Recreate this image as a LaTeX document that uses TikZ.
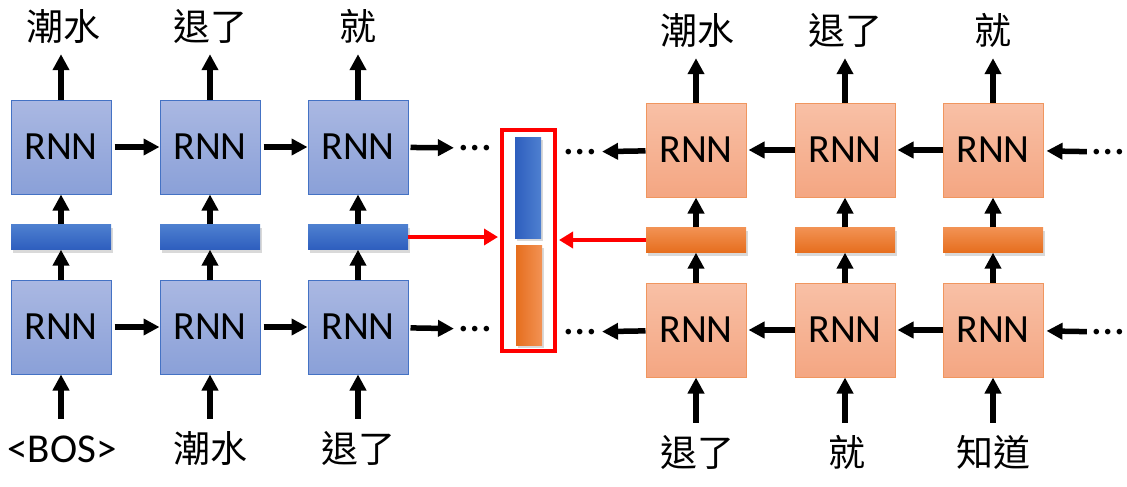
\documentclass[tikz,border=0pt]{standalone}
\usepackage{fontspec}
\setmainfont{Carlito}
\newfontfamily\cjk{Noto Sans CJK TC}
\usetikzlibrary{arrows.meta,shadows}
\definecolor{fwdline}{RGB}{68,114,196}
\definecolor{fwdtop}{RGB}{170,184,226}
\definecolor{fwdbot}{RGB}{138,160,216}
\definecolor{bwdline}{RGB}{240,150,95}
\definecolor{bwdtop}{RGB}{248,192,166}
\definecolor{bwdbot}{RGB}{244,166,130}
\definecolor{fbartop}{RGB}{78,128,208}
\definecolor{fbarbot}{RGB}{46,94,190}
\definecolor{bbartop}{RGB}{242,146,84}
\definecolor{bbarbot}{RGB}{230,110,30}
\tikzset{
  fwd/.style={draw=fwdline, line width=1pt, top color=fwdtop, bottom color=fwdbot,
    minimum width=100pt, minimum height=94pt, font=\fontsize{40}{42}\selectfont},
  bwd/.style={draw=bwdline, line width=1pt, top color=bwdtop, bottom color=bwdbot,
    minimum width=100pt, minimum height=94pt, font=\fontsize{40}{42}\selectfont},
  barshadow/.style={drop shadow={shadow xshift=2pt, shadow yshift=-3pt, opacity=0.3}},
  fbar/.style={barshadow, top color=fbartop, bottom color=fbarbot, minimum width=100pt, minimum height=25pt},
  bbar/.style={barshadow, top color=bbartop, bottom color=bbarbot, minimum width=100pt, minimum height=25pt},
  word/.style={font=\cjk\fontsize{37}{40}\selectfont, inner sep=0pt, text height=31pt, text depth=6pt, anchor=base},
  ellip/.style={font=\fontsize{46}{48}\selectfont, inner sep=0pt},
  flow/.style={-{Triangle[length=16pt,width=16pt]}, line width=5.5pt},
  merge/.style={-{Triangle[length=14pt,width=16pt]}, line width=4.5pt, red}
}
\begin{document}
\begin{tikzpicture}[x=1pt, y=-1pt]
  \useasboundingbox (0,0) rectangle (1127,487);

  % Forward RNN
  \foreach \i/\x in {1/61, 2/210, 3/358} {
    \node[fwd] (ft\i) at (\x,147) {RNN};
    \node[fbar] (fb\i) at (\x,237) {};
    \node[fwd] (fl\i) at (\x,327) {RNN};
  }
  \node[word] (fo1) at (63,41) {潮水};
  \node[word] (fo2) at (210,41) {退了};
  \node[word] (fo3) at (358,41) {就};
  \node[word, font=\fontsize{41}{43}\selectfont] (fi1) at (62,462) {<BOS>};
  \node[word] (fi2) at (210,462) {潮水};
  \node[word] (fi3) at (358,462) {退了};
  \node[ellip] (fe1) at (475,148) {…};
  \node[ellip] (fe2) at (475,329) {…};

  % Backward RNN
  \foreach \i/\x in {1/696, 2/845, 3/993} {
    \node[bwd] (bt\i) at (\x,150) {RNN};
    \node[bbar] (bb\i) at (\x,240) {};
    \node[bwd] (bl\i) at (\x,330) {RNN};
  }
  \node[word] (bo1) at (697,45) {潮水};
  \node[word] (bo2) at (845,45) {退了};
  \node[word] (bo3) at (993,45) {就};
  \node[word] (bi1) at (697,466) {退了};
  \node[word] (bi2) at (847,466) {就};
  \node[word] (bi3) at (993,466) {知道};
  \node[ellip] (be1) at (580,152) {…};
  \node[ellip] (be2) at (580,332) {…};
  \node[ellip] (be3) at (1108,152) {…};
  \node[ellip] (be4) at (1108,332) {…};

  % Concatenation
  \node[draw=red, line width=4pt, minimum width=53pt, minimum height=221pt] (cat) at (528.5,240.5) {};
  \node[barshadow, left color=fbarbot, right color=fbartop, minimum width=26pt, minimum height=101pt] (cf) at (528,187.5) {};
  \node[barshadow, left color=bbarbot, right color=bbartop, minimum width=26pt, minimum height=100pt] (cb) at (529,295) {};

  % Edges
  \foreach \p in {f, b} {
    \foreach \i in {1, 2, 3} {
      \draw[flow] (\p l\i.north) -- (\p b\i.south);
      \draw[flow] (\p b\i.north) -- (\p t\i.south);
      \draw[flow, shorten >=7pt] (\p t\i.north) -- (\p t\i.north |- \p o\i.south);
      \draw[flow, shorten <=12pt] (\p l\i.south |- \p i\i.north) -- (\p l\i.south);
    }
  }
  \foreach \a/\b in {ft1/ft2, ft2/ft3, fl1/fl2, fl2/fl3}
    \draw[flow, shorten <=3pt] (\a) -- (\b);
  \draw[flow, shorten <=2pt, shorten >=5pt] (ft3) -- (fe1);
  \draw[flow, shorten <=2pt, shorten >=5pt] (fl3) -- (fe2);
  \foreach \a/\b in {bt3/bt2, bt2/bt1, bl3/bl2, bl2/bl1}
    \draw[flow, shorten >=2pt] (\a) -- (\b);
  \draw[flow, shorten >=6pt] (bt1) -- (be1);
  \draw[flow, shorten >=6pt] (bl1) -- (be2);
  \draw[flow, shorten <=5pt, shorten >=3pt] (be3) -- (bt3);
  \draw[flow, shorten <=5pt, shorten >=3pt] (be4) -- (bl3);
  \draw[merge, shorten >=2pt] (fb3.east) -- (fb3.east -| cat.west);
  \draw[merge, shorten >=2pt] (bb1.west) -- (bb1.west -| cat.east);
\end{tikzpicture}
\end{document}
